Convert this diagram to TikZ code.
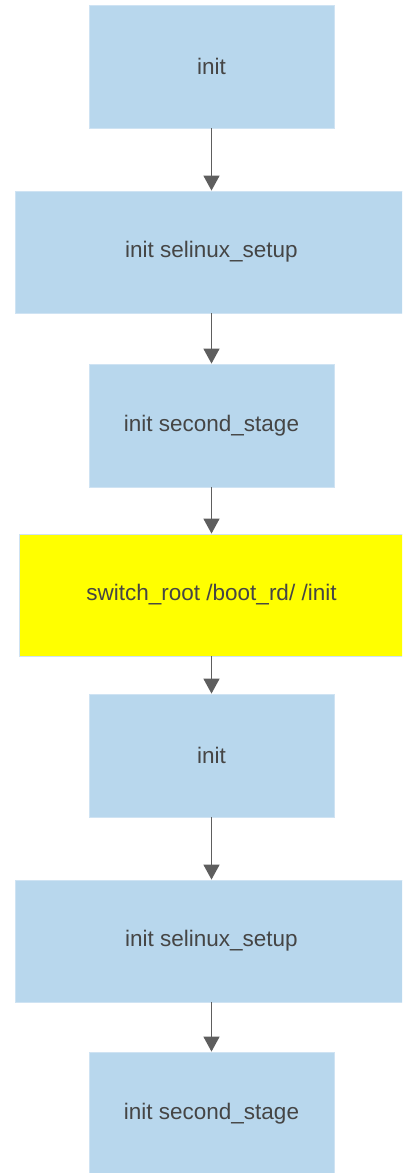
\documentclass[tikz,border=0pt]{standalone}
\usepackage{fontspec}
\setmainfont{Liberation Sans}
\usetikzlibrary{arrows.meta}
\definecolor{boxblue}{HTML}{B8D7ED}
\definecolor{boxedge}{HTML}{CFE3F3}
\definecolor{ylw}{HTML}{FFFF00}
\definecolor{txt}{HTML}{454545}
\definecolor{arr}{HTML}{5E5E5E}
\tikzset{
  stepbox/.style={rectangle, fill=boxblue, draw=boxedge, line width=0.8pt, inner sep=0pt,
    text=txt, font=\fontsize{22.5}{26}\selectfont},
  narrow/.style={minimum width=245pt, minimum height=123pt},
  wide/.style={minimum width=393pt, minimum height=122pt},
  hl/.style={fill=ylw, minimum width=385pt, minimum height=122pt},
  conn/.style={draw=arr, line width=1.5pt, -{Triangle[width=16pt,length=15pt]}}
}
\begin{document}
\begin{tikzpicture}[x=1pt,y=1pt]
\useasboundingbox (0,0) rectangle (402,-1173);
\begin{scope}
\clip (0,0) rectangle (402,-1173);
\node[stepbox,narrow] (a) at (211.5,-66.5) {init};
\node[stepbox,wide] (b) at (211.5,-252) {init selinux\_setup};
\node[stepbox,narrow] (c) at (211.5,-425.5) {init second\_stage};
\node[stepbox,hl] (d) at (211.5,-595) {switch\_root /boot\_rd/ /init};
\node[stepbox,narrow] (e) at (211.5,-755.5) {init};
\node[stepbox,wide] (f) at (211.5,-941) {init selinux\_setup};
\node[stepbox,narrow] (g) at (211.5,-1113.5) {init second\_stage};
\end{scope}
\draw[conn] (a) -- (b);
\draw[conn] (b) -- (c);
\draw[conn] (c) -- (d);
\draw[conn] (d) -- (e);
\draw[conn] (e) -- (f);
\draw[conn] (f) -- (g);
\end{tikzpicture}
\end{document}
